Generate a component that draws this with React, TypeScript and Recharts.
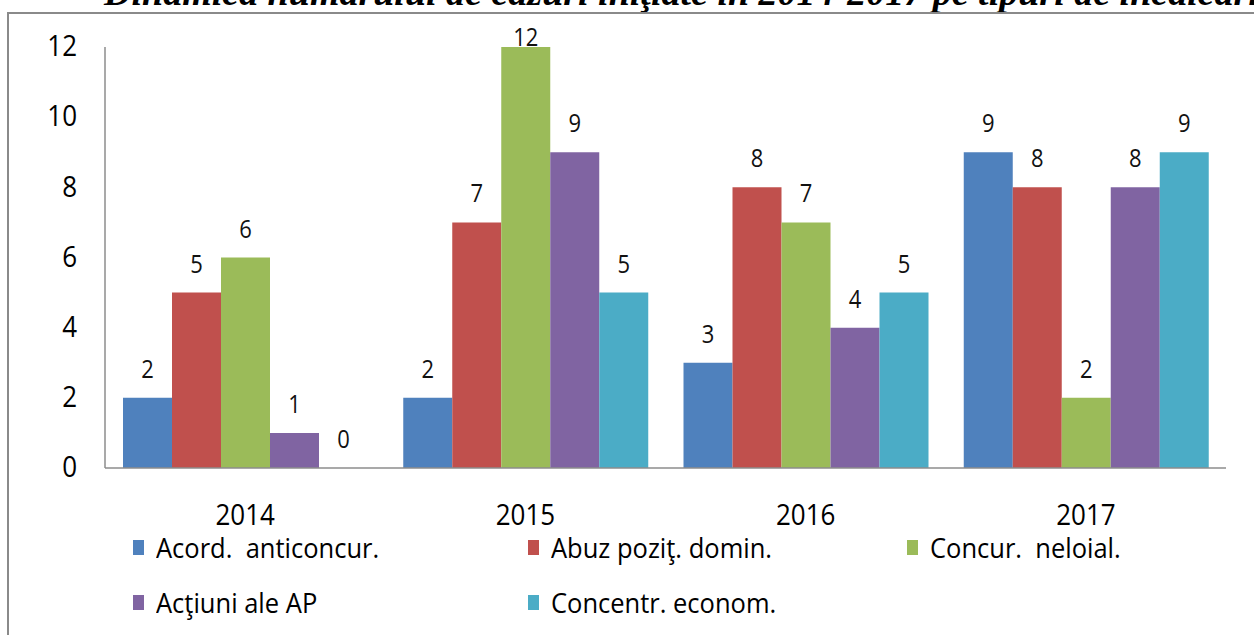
import React from 'react';
import { BarChart, Bar, XAxis, YAxis, Legend, LabelList } from 'recharts';

const categories = ['2014', '2015', '2016', '2017'];
const acordAnticoncur = [2, 2, 3, 9];
const abuzPozitDomin = [5, 7, 8, 8];
const concurNeloial = [6, 12, 7, 2];
const actiuniAP = [1, 9, 4, 8];
const concentrEconom = [0, 5, 5, 9];
const yTicks = [0, 2, 4, 6, 8, 10, 12];

const seriesKeys = ['acord', 'abuz', 'concur', 'actiuni', 'concentr'];
const seriesNames = ['Acord.  anticoncur.', 'Abuz poziţ. domin.', 'Concur.  neloial.', 'Acţiuni ale AP', 'Concentr. econom.'];
const seriesColors = ['#4F81BD', '#C0504D', '#9BBB59', '#8064A2', '#4BACC6'];
const seriesValues = [acordAnticoncur, abuzPozitDomin, concurNeloial, actiuniAP, concentrEconom];

const data = categories.map((c, i) => {
  const row: any = { year: c };
  seriesKeys.forEach((k, s) => { row[k] = seriesValues[s][i]; });
  return row;
});

const FONT = "'Open Sans', 'Noto Sans', sans-serif";
const PLOT_TOP = 47;

const YTick = (props: any) => {
  const { x, y, payload } = props;
  return (
    <g transform={`translate(${x},${y}) scale(1,1.15)`}>
      <text x={0} y={0} dy={8} textAnchor="end" fontFamily={FONT} fontSize={26} fill="#000">{payload.value}</text>
    </g>
  );
};

const XTick = (props: any) => {
  const { x, y, payload } = props;
  return (
    <g transform={`translate(${x},${y}) scale(1,1.15)`}>
      <text x={0} y={0} textAnchor="middle" fontFamily={FONT} fontSize={26} fill="#000">{payload.value}</text>
    </g>
  );
};

const ValueLabel = (props: any) => {
  const { x, y, width, value } = props;
  const base = Math.max(Number(y) - 20, PLOT_TOP - 1);
  return (
    <g transform={`translate(${Number(x) + Number(width) / 2},${base}) scale(1,1.15)`}>
      <text x={0} y={0} textAnchor="middle" fontFamily={FONT} fontSize={22} fill="#111">{value}</text>
    </g>
  );
};

const legendCols = [133, 528, 907];

const LegendContent = () => (
  <div style={{ position: 'relative', width: 1254, height: 100 }}>
    {seriesNames.map((name, i) => {
      const col = i < 3 ? i : i - 3;
      const row = i < 3 ? 0 : 1;
      return (
        <div key={name} style={{ position: 'absolute', left: legendCols[col], top: row * 55, display: 'flex', alignItems: 'center', height: 32 }}>
          <div style={{ width: 11, height: 15, background: seriesColors[i], marginRight: 12 }} />
          <span style={{ fontFamily: FONT, fontSize: 25.5, color: '#000', whiteSpace: 'pre', display: 'inline-block', transform: 'scale(1,1.05)' }}>{name}</span>
        </div>
      );
    })}
  </div>
);

export default function App() {
  return (
    <div style={{ position: 'absolute', left: 0, top: 0, width: 1254, height: 635, overflow: 'hidden', background: '#fff' }}>
      <div style={{ position: 'absolute', left: 104, top: -27, fontFamily: "'Liberation Serif', 'Times New Roman', serif", fontStyle: 'italic', fontWeight: 'bold', fontSize: 38, lineHeight: '38px', whiteSpace: 'nowrap', color: '#000' }}>
        Dinamica numărului de cazuri iniţiate în 2014-2017 pe tipuri de încălcări
      </div>
      <div style={{ position: 'absolute', left: 7, top: 12, width: 1300, height: 700, borderTop: '2px solid #8a8a8a', borderLeft: '2px solid #8a8a8a' }} />
      <div style={{ position: 'absolute', left: 0, top: 0 }}>
        <BarChart width={1254} height={635} data={data} margin={{ top: PLOT_TOP, right: 28, left: 45, bottom: 7 }} barCategoryGap={18} barGap={0}>
          <XAxis dataKey="year" height={60} tickSize={0} tickMargin={57} tick={<XTick />} axisLine={{ stroke: '#8c8c8c', strokeWidth: 1.5 }} tickLine={false} />
          <YAxis width={60} domain={[0, 12]} ticks={yTicks} tickSize={0} tickMargin={28} tick={<YTick />} axisLine={{ stroke: '#8c8c8c', strokeWidth: 1.5 }} tickLine={false} interval={0} />
          <Legend verticalAlign="bottom" content={<LegendContent />} wrapperStyle={{ left: 0, top: 531, width: 1254, height: 100 }} />
          {seriesKeys.map((k, i) => (
            <Bar key={k} dataKey={k} name={seriesNames[i]} fill={seriesColors[i]} isAnimationActive={false} minPointSize={(v: any) => (v === 0 ? 0.01 : 0)}>
              <LabelList dataKey={k} content={<ValueLabel />} />
            </Bar>
          ))}
        </BarChart>
      </div>
    </div>
  );
}
